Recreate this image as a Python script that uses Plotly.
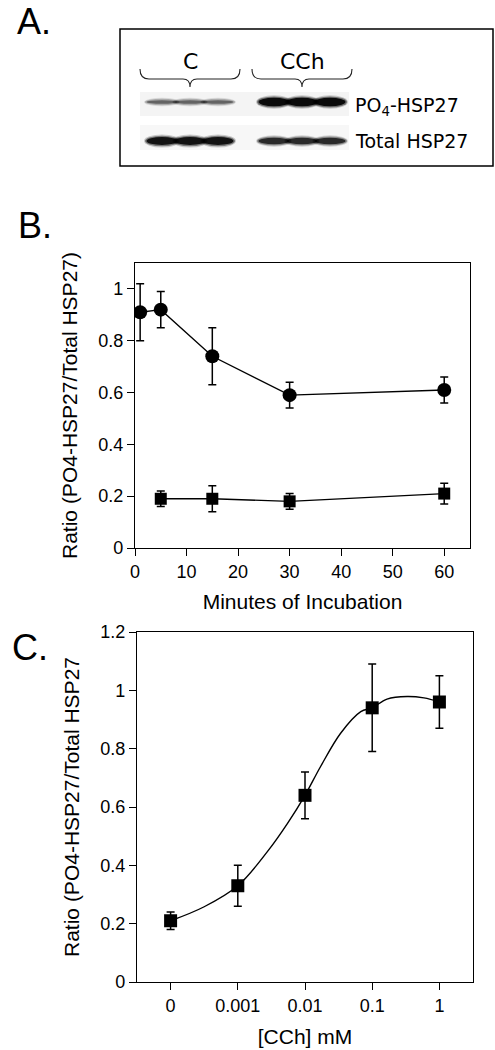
import plotly.graph_objects as go

# ---------------- data ----------------
# Panel B: time course
minutes_ctrl = [1, 5, 15, 30, 60]
ratio_cch = [0.91, 0.92, 0.74, 0.59, 0.61]
err_cch = [0.11, 0.07, 0.11, 0.05, 0.05]

minutes_sq = [5, 15, 30, 60]
ratio_ctrl = [0.19, 0.19, 0.18, 0.21]
err_ctrl = [0.03, 0.05, 0.03, 0.04]

# Panel C: concentration response
conc_labels = ["0", "0.001", "0.01", "0.1", "1"]
ratio_conc = [0.21, 0.33, 0.64, 0.94, 0.96]
err_conc = [0.03, 0.07, 0.08, 0.15, 0.09]
# fitted curve (category index, value)
fit_pos = [0, 0.5, 1, 1.44, 1.74, 2, 2.23, 2.53, 2.83, 3, 3.22, 3.52, 3.77, 4]
fit_val = [0.21, 0.258, 0.33, 0.447, 0.544, 0.64, 0.738, 0.853, 0.927, 0.94, 0.97, 0.979, 0.974, 0.96]

# Panel A: blot band relative intensities (3 lanes C, 3 lanes CCh)
blot_groups = ["C", "CCh"]
blot_rows = ["PO<sub>4</sub>-HSP27", "Total HSP27"]
po4_intensity = [0.4, 0.4, 0.4, 1.0, 1.0, 1.0]
total_intensity = [0.95, 0.95, 0.95, 0.75, 0.75, 0.75]

# ---------------- figure ----------------
W, H = 495, 1050
FONT = "Liberation Sans, Arial, Helvetica, sans-serif"
BLOTFONT = "DejaVu Sans, sans-serif"
fig = go.Figure()

err_style = dict(type="data", visible=True, color="black", thickness=1.5, width=4)

fig.add_trace(go.Scatter(
    x=minutes_ctrl, y=ratio_cch, mode="lines+markers",
    error_y=dict(array=err_cch, **err_style),
    line=dict(color="black", width=1.4),
    marker=dict(symbol="circle", size=14, color="black"),
    xaxis="x", yaxis="y", showlegend=False))
fig.add_trace(go.Scatter(
    x=minutes_sq, y=ratio_ctrl, mode="lines+markers",
    error_y=dict(array=err_ctrl, **err_style),
    line=dict(color="black", width=1.4),
    marker=dict(symbol="square", size=12, color="black"),
    xaxis="x", yaxis="y", showlegend=False))

fig.add_trace(go.Scatter(
    x=fit_pos, y=fit_val, mode="lines",
    line=dict(color="black", width=1.4, shape="spline", smoothing=1.0),
    xaxis="x2", yaxis="y2", showlegend=False, hoverinfo="skip"))
fig.add_trace(go.Scatter(
    x=list(range(len(conc_labels))), y=ratio_conc, mode="markers",
    error_y=dict(array=err_conc, **err_style),
    marker=dict(symbol="square", size=13, color="black"),
    xaxis="x2", yaxis="y2", showlegend=False))

axis_common = dict(showline=True, linecolor="black", linewidth=1.3, mirror=True,
                   ticks="outside", ticklen=7, tickwidth=1.3, tickcolor="black",
                   showgrid=False, zeroline=False,
                   tickfont=dict(family=FONT, size=18, color="black"),
                   title_font=dict(family=FONT, size=21, color="black"))

fig.update_layout(
    width=W, height=H,
    margin=dict(l=0, r=0, t=0, b=0, autoexpand=False),
    paper_bgcolor="white", plot_bgcolor="rgba(0,0,0,0)",
    xaxis=dict(domain=[135 / W, 470 / W], range=[0, 65], tickvals=[0, 10, 20, 30, 40, 50, 60],
               title=dict(text="Minutes of Incubation", standoff=13), anchor="y", **axis_common),
    yaxis=dict(domain=[1 - 548 / H, 1 - 263 / H], range=[0, 1.1], tickvals=[0, 0.2, 0.4, 0.6, 0.8, 1],
               title=dict(text="Ratio (PO4-HSP27/Total HSP27)", standoff=14), anchor="x", **axis_common),
    xaxis2=dict(domain=[137 / W, 473 / W], range=[-0.5, 4.5], tickvals=list(range(5)), ticktext=conc_labels,
                title=dict(text="[CCh] mM", standoff=14), anchor="y2", **axis_common),
    yaxis2=dict(domain=[1 - 982 / H, 1 - 632 / H], range=[0, 1.2], tickvals=[0, 0.2, 0.4, 0.6, 0.8, 1, 1.2],
                title=dict(text="Ratio (PO4-HSP27/Total HSP27", standoff=14), anchor="x2", **axis_common),
    xaxis3=dict(domain=[0, 1], range=[0, W], visible=False, fixedrange=True, anchor="y3"),
    yaxis3=dict(domain=[0, 1], range=[H, 0], visible=False, fixedrange=True, anchor="x3"),
)

shapes = []
# blot box
shapes.append(dict(type="rect", xref="x3", yref="y3", x0=120, y0=29, x1=493, y1=166,
                   line=dict(color="black", width=1.5), fillcolor="rgba(0,0,0,0)"))
# faint membrane background
shapes.append(dict(type="rect", xref="x3", yref="y3", x0=140, y0=92, x1=349, y1=116,
                   line=dict(width=0), fillcolor="#f4f4f4", layer="below"))
shapes.append(dict(type="rect", xref="x3", yref="y3", x0=140, y0=125, x1=349, y1=150,
                   line=dict(width=0), fillcolor="#f7f7f7", layer="below"))

group_centers = [190, 302]
lane_offsets = [-28, 0, 28]
row_y = [102, 141]

# braces
for gc in group_centers:
    x0, x1 = gc - 50, gc + 50
    yt, yl, yb = 69, 79, 87
    path = (f"M {x0},{yt} Q {x0},{yl} {x0+9},{yl} L {gc-7},{yl} Q {gc},{yl} {gc},{yb} "
            f"Q {gc},{yl} {gc+7},{yl} L {x1-9},{yl} Q {x1},{yl} {x1},{yt}")
    shapes.append(dict(type="path", xref="x3", yref="y3", path=path,
                       line=dict(color="#222", width=1.1)))

# bands
for ri, intens in enumerate([po4_intensity, total_intensity]):
    for li, val in enumerate(intens):
        g = li // 3
        cx = group_centers[g] + lane_offsets[li % 3]
        cy = row_y[ri]
        h = 1.5 + 8 * val
        for (dw, dh, op) in [(18, h / 2 + 2.0, 0.15 * val + 0.04),
                             (17, h / 2 + 0.8, 0.35 * val + 0.08),
                             (15.5, h / 2 - 0.6, 0.8 * val + 0.1)]:
            shapes.append(dict(type="circle", xref="x3", yref="y3",
                               x0=cx - dw, x1=cx + dw, y0=cy - dh, y1=cy + dh,
                               line=dict(width=0), fillcolor="black", opacity=min(op, 1)))

annotations = []
def ann(text, x, y, size, family=FONT, xanchor="left"):
    annotations.append(dict(text=text, x=x, y=y, xref="x3", yref="y3", showarrow=False,
                            xanchor=xanchor, yanchor="middle",
                            font=dict(family=family, size=size, color="black")))

ann("A.", 15, 21, 36)
ann("B.", 16, 225, 36)
ann("C.", 10, 647, 36)
for gc, lab in zip(group_centers, blot_groups):
    ann(lab, gc, 61, 22, BLOTFONT, "center")
ann(blot_rows[0], 353, 106, 19, BLOTFONT)
ann(blot_rows[1], 353, 141, 19, BLOTFONT)

fig.update_layout(shapes=shapes, annotations=annotations)

fig.write_html("out.html", config={"displayModeBar": False},
               post_script="document.body.style.margin='0';document.body.style.overflow='hidden';")
